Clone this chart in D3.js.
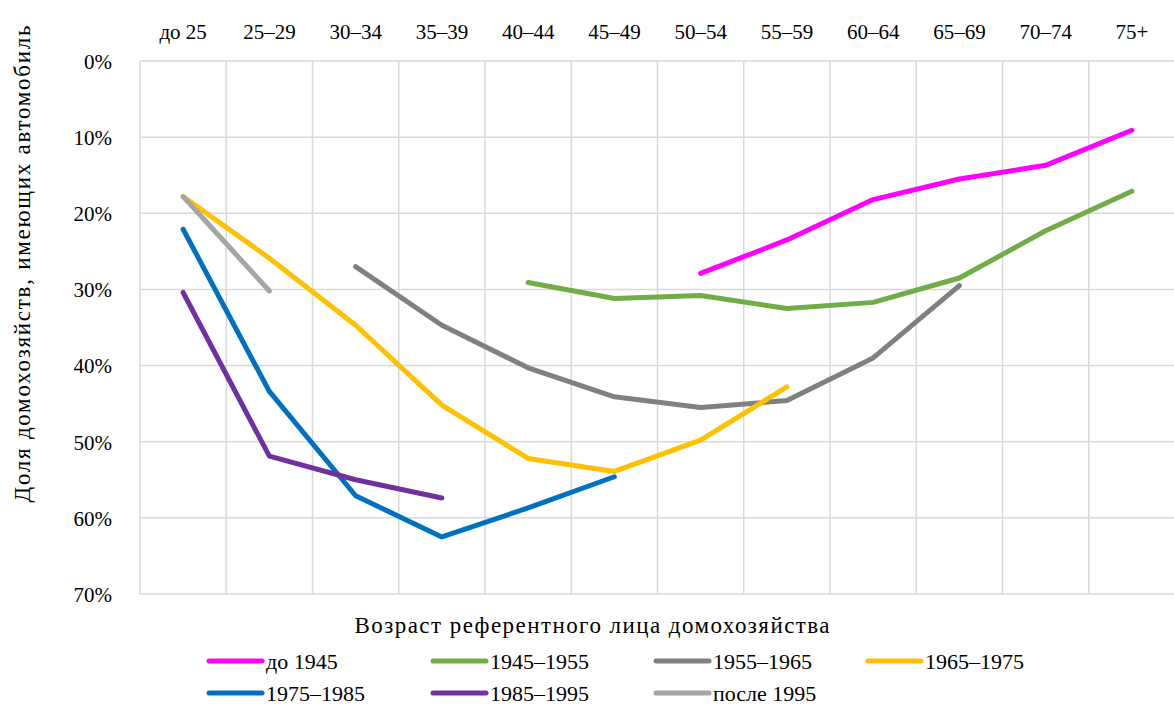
<!DOCTYPE html>
<html><head><meta charset="utf-8">
<script src="https://cdn.jsdelivr.net/npm/d3@7"></script>
<style>body{margin:0;background:#fff}svg{display:block}</style>
</head><body><svg id="c" width="1174" height="706"></svg>
<script>
const categories = ["до 25","25–29","30–34","35–39","40–44","45–49","50–54","55–59","60–64","65–69","70–74","75+"];
const yTicks = [0,10,20,30,40,50,60,70];
const seriesNames = ["до 1945","1945–1955","1955–1965","1965–1975","1975–1985","1985–1995","после 1995"];
const seriesColors = ["#FF00FF","#70AD47","#808080","#FFC000","#0070C0","#7030A0","#A5A5A5"];
const s1945 = [null,null,null,null,null,null,27.9,23.5,18.2,15.5,13.7,9.1];
const s1945_1955 = [null,null,null,null,29.1,31.2,30.8,32.5,31.7,28.5,22.3,17.1];
const s1955_1965 = [null,null,27.0,34.7,40.3,44.1,45.5,44.6,39.0,29.5,null,null];
const s1965_1975 = [17.8,25.9,34.7,45.2,52.2,53.9,49.8,42.8,null,null,null,null];
const s1975_1985 = [22.1,43.4,57.1,62.5,58.7,54.6,null,null,null,null,null,null];
const s1985_1995 = [30.4,51.9,55.0,57.4,null,null,null,null,null,null,null,null];
const sAfter1995 = [17.8,30.2,null,null,null,null,null,null,null,null,null,null];
const seriesValues = [s1945,s1945_1955,s1955_1965,s1965_1975,s1975_1985,s1985_1995,sAfter1995];

const FONT = '"Liberation Serif","Times New Roman",Tinos,"DejaVu Serif","Noto Serif",serif';
const svg = d3.select("#c").attr("font-family",FONT);
const L=140, R=1175, T=61, B=594;
const x = d3.scaleBand().domain(categories).range([L,R]);
const y = d3.scaleLinear().domain([0,70]).range([T,B]);
const grid = svg.append("g");
yTicks.forEach(t=>grid.append("line").attr("x1",L).attr("x2",R).attr("y1",y(t)).attr("y2",y(t)).attr("stroke","#d9d9d9").attr("stroke-width",1.5));
categories.forEach(c=>grid.append("line").attr("x1",x(c)).attr("x2",x(c)).attr("y1",T).attr("y2",B).attr("stroke","#d9d9d9").attr("stroke-width",1.5));

const xAxis = svg.append("g").attr("transform",`translate(0,${T})`).call(d3.axisTop(x).tickSize(0).tickPadding(22));
xAxis.attr("font-family",FONT).attr("font-size",21);
xAxis.select(".domain").remove();
xAxis.selectAll("text").attr("fill","#000").attr("dy","0");
const yAxis = svg.append("g").attr("transform",`translate(${L},0)`).call(d3.axisLeft(y).tickValues(yTicks).tickFormat(d=>d+"%").tickSize(0).tickPadding(28));
yAxis.attr("font-family",FONT).attr("font-size",21);
yAxis.select(".domain").remove();
yAxis.selectAll("text").attr("fill","#000").attr("dy","0.35em");

const line = d3.line().defined(d=>d.v!=null).x(d=>x(d.c)+x.bandwidth()/2).y(d=>y(d.v));
seriesValues.forEach((vals,i)=>{
  svg.append("path").datum(categories.map((c,j)=>({c,v:vals[j]})))
    .attr("d",line).attr("fill","none").attr("stroke",seriesColors[i]).attr("stroke-width",5)
    .attr("stroke-linecap","round").attr("stroke-linejoin","round");
});

svg.append("text").attr("transform","translate(30,264) rotate(-90)").attr("text-anchor","middle").attr("font-size",23)
  .attr("textLength",477).attr("lengthAdjust","spacing").text("Доля домохозяйств, имеющих автомобиль");
svg.append("text").attr("x",592).attr("y",633).attr("text-anchor","middle").attr("font-size",23)
  .attr("textLength",475).attr("lengthAdjust","spacing").text("Возраст референтного лица домохозяйства");

const colX=[209,433,656,868], rowY=[661,693];
seriesNames.forEach((n,i)=>{
  const cx=colX[i%4], cy=rowY[Math.floor(i/4)];
  svg.append("line").attr("x1",cx).attr("x2",cx+53).attr("y1",cy).attr("y2",cy).attr("stroke",seriesColors[i]).attr("stroke-width",5).attr("stroke-linecap","round");
  svg.append("text").attr("x",cx+57).attr("y",cy).attr("dy","0.35em").attr("font-size",22).text(n);
});
</script></body></html>
